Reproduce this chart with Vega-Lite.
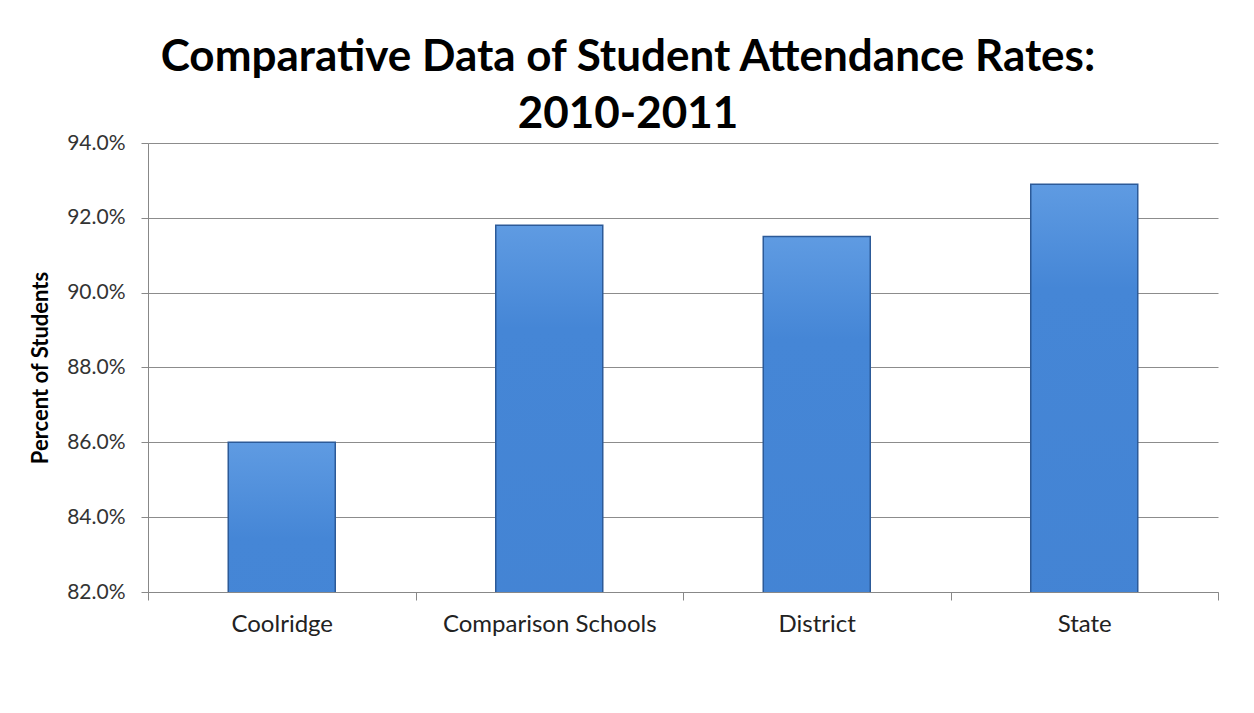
{
  "$schema": "https://vega.github.io/schema/vega-lite/v6.json",
  "width": 1070,
  "height": 449,
  "autosize": {"type": "none"},
  "padding": {"left": 148, "top": 143, "right": 36, "bottom": 121},
  "background": "white",
  "title": {
    "text": ["Comparative Data of Student Attendance Rates:", "2010-2011"],
    "font": "Lato",
    "fontWeight": "bold",
    "fontSize": 44,
    "lineHeight": 57,
    "color": "#000000",
    "anchor": "middle",
    "frame": "group",
    "dx": -55,
    "offset": -5
  },
  "data": {
    "values": [
      {"group": "Coolridge", "rate": 0.86},
      {"group": "Comparison Schools", "rate": 0.918},
      {"group": "District", "rate": 0.915},
      {"group": "State", "rate": 0.929}
    ]
  },
  "mark": {
    "type": "bar",
    "clip": true,
    "width": {"band": 0.4},
    "fill": {
      "x1": 0, "y1": 0, "x2": 0, "y2": 1,
      "gradient": "linear",
      "stops": [
        {"offset": 0, "color": "#5f9be2"},
        {"offset": 0.03, "color": "#4586d6"},
        {"offset": 0.45, "color": "#3e7bcb"},
        {"offset": 0.95, "color": "#3465ad"},
        {"offset": 1, "color": "#2a5695"}
      ]
    },
    "stroke": "#2c5a98",
    "strokeWidth": 1.5
  },
  "encoding": {
    "x": {
      "field": "group",
      "type": "nominal",
      "sort": null,
      "scale": {"paddingInner": 0, "paddingOuter": 0},
      "axis": {
        "title": null,
        "labelAngle": 0,
        "labelFont": "Lato",
        "labelFontSize": 24,
        "labelColor": "#222222",
        "labelPadding": 12,
        "labelLimit": 0,
        "labelOverlap": false,
        "tickBand": "extent",
        "tickSize": 8,
        "tickColor": "#888888",
        "domainColor": "#888888",
        "grid": false
      }
    },
    "y": {
      "field": "rate",
      "type": "quantitative",
      "scale": {"domain": [0.82, 0.94], "zero": false, "nice": false},
      "axis": {
        "title": "Percent of Students",
        "titleFont": "Lato",
        "titleFontSize": 22,
        "titleFontWeight": "bold",
        "titleColor": "#000000",
        "titlePadding": 14,
        "values": [0.82, 0.84, 0.86, 0.88, 0.90, 0.92, 0.94],
        "format": ".1%",
        "labelFont": "Lato",
        "labelFontSize": 21,
        "labelColor": "#333333",
        "labelPadding": 16,
        "tickSize": 7,
        "tickColor": "#888888",
        "domainColor": "#888888",
        "gridColor": "#8c8c8c",
        "gridWidth": 1
      }
    }
  },
  "config": {
    "view": {"stroke": null}
  }
}
